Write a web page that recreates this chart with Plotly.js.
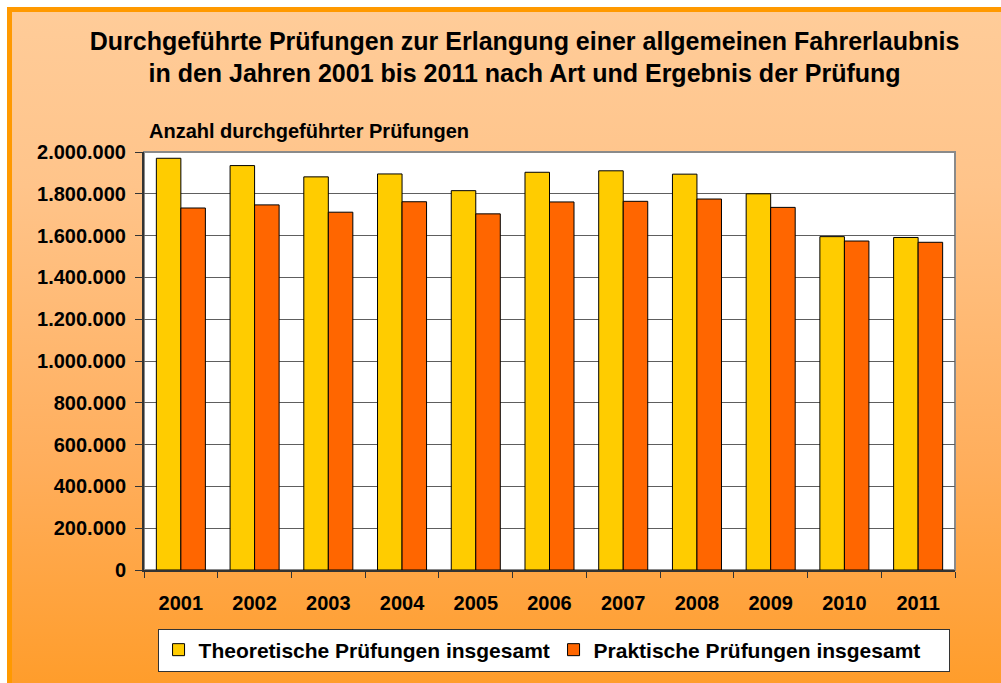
<!DOCTYPE html>
<html>
<head>
<meta charset="utf-8">
<script src="https://cdn.plot.ly/plotly-3.0.1.min.js"></script>
<style>
  html, body { margin: 0; padding: 0; background: #ffffff; overflow: hidden; }
  #frame {
    position: absolute; left: 7px; top: 7px; width: 1010px; height: 700px;
    box-sizing: border-box;
    border-top: 5px solid #FF9900; border-left: 5px solid #FF9900;
    background: linear-gradient(to bottom, #FFCC99 0%, #FFC48A 25%, #FFAE5C 65%, #FF9B26 100%);
  }
  #chart { position: absolute; left: 0; top: 0; width: 1001px; height: 683px; }
</style>
</head>
<body>
<div id="frame"></div>
<div id="chart"></div>
<script>
const years = ["2001","2002","2003","2004","2005","2006","2007","2008","2009","2010","2011"];
const theoretische = [1970000, 1935000, 1881000, 1895000, 1815000, 1903000, 1910000, 1894000, 1800000, 1595000, 1591000];
const praktische   = [1732000, 1747000, 1712000, 1762000, 1704000, 1761000, 1764000, 1775000, 1735000, 1574000, 1568000];
const yTickVals = [0, 200000, 400000, 600000, 800000, 1000000, 1200000, 1400000, 1600000, 1800000, 2000000];
const yTickText = ["0","200.000","400.000","600.000","800.000","1.000.000","1.200.000","1.400.000","1.600.000","1.800.000","2.000.000"];
const seriesNames = ["Theoretische Prüfungen insgesamt", "Praktische Prüfungen insgesamt"];
const titleText = "Durchgeführte Prüfungen zur Erlangung einer allgemeinen Fahrerlaubnis<br>in den Jahren 2001 bis 2011 nach Art und Ergebnis der Prüfung";
const yTitleText = "Anzahl durchgeführter Prüfungen";

const FONT = "Liberation Sans, Arial, sans-serif";

const traces = [
  {type: "bar", x: years, y: theoretische, name: seriesNames[0],
   marker: {color: "#FFCC00", line: {color: "#000000", width: 1}}},
  {type: "bar", x: years, y: praktische, name: seriesNames[1],
   marker: {color: "#FF6600", line: {color: "#000000", width: 1}}}
];

const layout = {
  width: 1001, height: 683,
  paper_bgcolor: "rgba(0,0,0,0)",
  plot_bgcolor: "#FFFFFF",
  margin: {l: 144, r: 46, t: 152, b: 110},
  barmode: "group", bargap: 0.335, bargroupgap: 0,
  title: {text: titleText, x: 0.524, xanchor: "center", y: 0.927, yanchor: "top",
          font: {family: FONT, size: 25, color: "#000000", weight: "bold"}},
  xaxis: {type: "category", showline: true, linecolor: "#333333", linewidth: 2,
          ticks: "outside", tickson: "boundaries", ticklen: 6, tickcolor: "#333333",
          ticklabelstandoff: 14,
          tickfont: {family: FONT, size: 20, color: "#000000", weight: "bold"},
          showgrid: false, fixedrange: true},
  yaxis: {range: [0, 2000000], tickvals: yTickVals, ticktext: yTickText,
          showline: true, linecolor: "#333333", linewidth: 2,
          ticks: "outside", ticklen: 7, tickcolor: "#333333",
          ticklabelstandoff: 5,
          showgrid: true, gridcolor: "#5E5E5E", gridwidth: 1,
          zeroline: false,
          tickfont: {family: FONT, size: 20, color: "#000000", weight: "bold"},
          fixedrange: true},
  shapes: [
    {type: "rect", xref: "paper", yref: "paper", x0: 0, x1: 1, y0: 0, y1: 1,
     line: {color: "#8A8A8A", width: 2}, fillcolor: "rgba(0,0,0,0)", layer: "below"}
  ],
  annotations: [
    {text: yTitleText, xref: "paper", yref: "paper", x: 0.004, y: 1.018, xanchor: "left", yanchor: "bottom",
     showarrow: false, font: {family: FONT, size: 20, color: "#000000", weight: "bold"}}
  ],
  showlegend: true,
  legend: {orientation: "h", x: 0.505, xanchor: "center", y: -0.140, yanchor: "top",
           bgcolor: "#FFFFFF", bordercolor: "#333333", borderwidth: 1,
           font: {family: FONT, size: 21, color: "#000000", weight: "bold"},
           entrywidth: 350, traceorder: "normal"}
};

Plotly.newPlot("chart", traces, layout, {displayModeBar: false, staticPlot: true});
</script>
</body>
</html>
